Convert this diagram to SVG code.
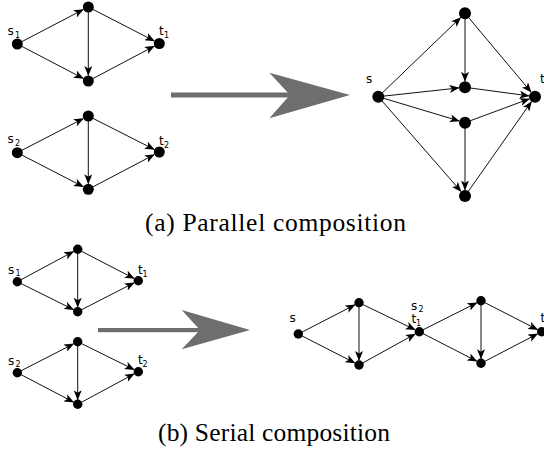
<svg xmlns="http://www.w3.org/2000/svg" width="544" height="449" viewBox="0 0 544 449">
<style>
.e{stroke:#111;stroke-width:1;fill:none;marker-end:url(#ah)}
.n{fill:#000}
.lb{font-family:"DejaVu Sans",sans-serif;font-size:12px;fill:#000}
.sb{font-family:"DejaVu Sans",sans-serif;font-size:8px;fill:#000}
.cap{font-family:"Liberation Serif",serif;font-size:25.5px;fill:#000}
.big{fill:#6e6e6e}
</style>
<defs>
<marker id="ah" markerUnits="userSpaceOnUse" markerWidth="10" markerHeight="8" viewBox="0 0 10 8" refX="9.5" refY="4" orient="auto">
<path d="M0,0 L10,4 L0,8 L2.5,4 z" fill="#000"/>
</marker>
</defs>
<rect width="544" height="449" fill="#fff"/>
<g id="connectors">
<line class="e" x1="17.3" y1="44" x2="83.4" y2="9.5"/>
<line class="e" x1="17.3" y1="44" x2="83.4" y2="78.5"/>
<line class="e" x1="88.3" y1="7" x2="88.3" y2="75.5"/>
<line class="e" x1="88.3" y1="7" x2="154.4" y2="41"/>
<line class="e" x1="88.3" y1="81" x2="154.4" y2="46.1"/>
<line class="e" x1="17.3" y1="152.7" x2="83.4" y2="118.5"/>
<line class="e" x1="17.3" y1="152.7" x2="83.4" y2="186.8"/>
<line class="e" x1="88.3" y1="116" x2="88.3" y2="183.8"/>
<line class="e" x1="88.3" y1="116" x2="154.4" y2="149.5"/>
<line class="e" x1="88.3" y1="189.3" x2="154.4" y2="154.6"/>
<line class="e" x1="378.3" y1="96.7" x2="460.7" y2="17.5"/>
<line class="e" x1="378.3" y1="96.7" x2="459" y2="87.9"/>
<line class="e" x1="378.3" y1="96.7" x2="459.3" y2="121"/>
<line class="e" x1="378.3" y1="96.7" x2="461.1" y2="191.5"/>
<line class="e" x1="465" y1="13.3" x2="465" y2="81.3"/>
<line class="e" x1="465" y1="13.3" x2="531.1" y2="92.1"/>
<line class="e" x1="465" y1="87.3" x2="529.1" y2="95.9"/>
<line class="e" x1="465" y1="122.7" x2="529.4" y2="98.8"/>
<line class="e" x1="465" y1="122.7" x2="465" y2="190"/>
<line class="e" x1="465" y1="196" x2="531.5" y2="101.6"/>
<line class="e" x1="17.3" y1="281.7" x2="73.7" y2="251.4"/>
<line class="e" x1="17.3" y1="281.7" x2="73.7" y2="309.7"/>
<line class="e" x1="77.7" y1="249.3" x2="77.7" y2="307.2"/>
<line class="e" x1="77.7" y1="249.3" x2="134.3" y2="278.6"/>
<line class="e" x1="77.7" y1="311.7" x2="134.3" y2="282.7"/>
<line class="e" x1="17.3" y1="372.7" x2="73.7" y2="343.8"/>
<line class="e" x1="17.3" y1="372.7" x2="73.7" y2="402.2"/>
<line class="e" x1="77.7" y1="341.7" x2="77.7" y2="399.8"/>
<line class="e" x1="77.7" y1="341.7" x2="134.3" y2="369.7"/>
<line class="e" x1="77.7" y1="404.3" x2="134.3" y2="373.8"/>
<line class="e" x1="298.3" y1="334" x2="355" y2="304.8"/>
<line class="e" x1="298.3" y1="334" x2="355" y2="363"/>
<line class="e" x1="359" y1="302.7" x2="359" y2="360.5"/>
<line class="e" x1="359" y1="302.7" x2="415.2" y2="329.8"/>
<line class="e" x1="359" y1="365" x2="415.4" y2="333.9"/>
<line class="e" x1="419.3" y1="331.7" x2="477" y2="302.7"/>
<line class="e" x1="419.3" y1="331.7" x2="477" y2="361.3"/>
<line class="e" x1="481" y1="300.7" x2="481" y2="358.8"/>
<line class="e" x1="481" y1="300.7" x2="537.7" y2="329.7"/>
<line class="e" x1="481" y1="363.3" x2="537.7" y2="333.8"/>
</g>
<g id="big-arrow-a">
<rect class="big" x="171" y="92.5" width="121" height="5"/>
<polygon class="big" points="269.3,72.7 350,95 269.3,118.3 290,95"/>
</g>
<g id="big-arrow-b">
<rect class="big" x="98" y="328" width="104" height="4.2"/>
<polygon class="big" points="181.7,310 250,330 181.7,349.3 200,330"/>
</g>
<g id="p1-s1"><circle class="n" cx="17.3" cy="44" r="5.5"/><text class="lb" x="7.5" y="35">s</text><text class="sb" x="15" y="37.5">1</text></g>
<g id="p1-top"><circle class="n" cx="88.3" cy="7" r="5.5"/></g>
<g id="p1-bot"><circle class="n" cx="88.3" cy="81" r="5.5"/></g>
<g id="p1-t1"><circle class="n" cx="159.3" cy="43.5" r="5.5"/><text class="lb" x="159" y="35">t</text><text class="sb" x="164" y="37.5">1</text></g>
<g id="p2-s2"><circle class="n" cx="17.3" cy="152.7" r="5.5"/><text class="lb" x="7.5" y="143">s</text><text class="sb" x="15" y="145.5">2</text></g>
<g id="p2-top"><circle class="n" cx="88.3" cy="116" r="5.5"/></g>
<g id="p2-bot"><circle class="n" cx="88.3" cy="189.3" r="5.5"/></g>
<g id="p2-t2"><circle class="n" cx="159.3" cy="152" r="5.5"/><text class="lb" x="159" y="145">t</text><text class="sb" x="164" y="147.5">2</text></g>
<g id="pr-s"><circle class="n" cx="378.3" cy="96.7" r="6"/><text class="lb" x="366" y="83">s</text></g>
<g id="pr-a"><circle class="n" cx="465" cy="13.3" r="6"/></g>
<g id="pr-m1"><circle class="n" cx="465" cy="87.3" r="6"/></g>
<g id="pr-m2"><circle class="n" cx="465" cy="122.7" r="6"/></g>
<g id="pr-b"><circle class="n" cx="465" cy="196" r="6"/></g>
<g id="pr-t"><circle class="n" cx="535" cy="96.7" r="6"/><text class="lb" x="540" y="83">t</text></g>
<g id="s1-s1"><circle class="n" cx="17.3" cy="281.7" r="4.7"/><text class="lb" x="8" y="273.5">s</text><text class="sb" x="15.5" y="276">1</text></g>
<g id="s1-top"><circle class="n" cx="77.7" cy="249.3" r="4.7"/></g>
<g id="s1-bot"><circle class="n" cx="77.7" cy="311.7" r="4.7"/></g>
<g id="s1-t1"><circle class="n" cx="138.3" cy="280.7" r="4.7"/><text class="lb" x="138" y="274">t</text><text class="sb" x="142.5" y="276.5">1</text></g>
<g id="s2-s2"><circle class="n" cx="17.3" cy="372.7" r="4.7"/><text class="lb" x="8" y="364.5">s</text><text class="sb" x="15.5" y="367">2</text></g>
<g id="s2-top"><circle class="n" cx="77.7" cy="341.7" r="4.7"/></g>
<g id="s2-bot"><circle class="n" cx="77.7" cy="404.3" r="4.7"/></g>
<g id="s2-t2"><circle class="n" cx="138.3" cy="371.7" r="4.7"/><text class="lb" x="138" y="364">t</text><text class="sb" x="142.5" y="366.5">2</text></g>
<g id="sr-s"><circle class="n" cx="298.3" cy="334" r="4.7"/><text class="lb" x="289.5" y="321.5">s</text></g>
<g id="sr-t1"><circle class="n" cx="359" cy="302.7" r="4.7"/></g>
<g id="sr-b1"><circle class="n" cx="359" cy="365" r="4.7"/></g>
<g id="sr-m"><circle class="n" cx="419.3" cy="331.7" r="4.7"/><text class="lb" x="411" y="309.5">s</text><text class="sb" x="418.5" y="312">2</text><text class="lb" x="411.5" y="323">t</text><text class="sb" x="416" y="325.5">1</text></g>
<g id="sr-t2"><circle class="n" cx="481" cy="300.7" r="4.7"/></g>
<g id="sr-b2"><circle class="n" cx="481" cy="363.3" r="4.7"/></g>
<g id="sr-t"><circle class="n" cx="541.7" cy="331.7" r="4.7"/><text class="lb" x="540.5" y="321.5">t</text></g>
<g id="captions">
<text class="cap" x="145" y="231" textLength="261" lengthAdjust="spacing">(a) Parallel composition</text>
<text class="cap" x="158" y="441" textLength="232" lengthAdjust="spacing">(b) Serial composition</text>
</g>
</svg>
